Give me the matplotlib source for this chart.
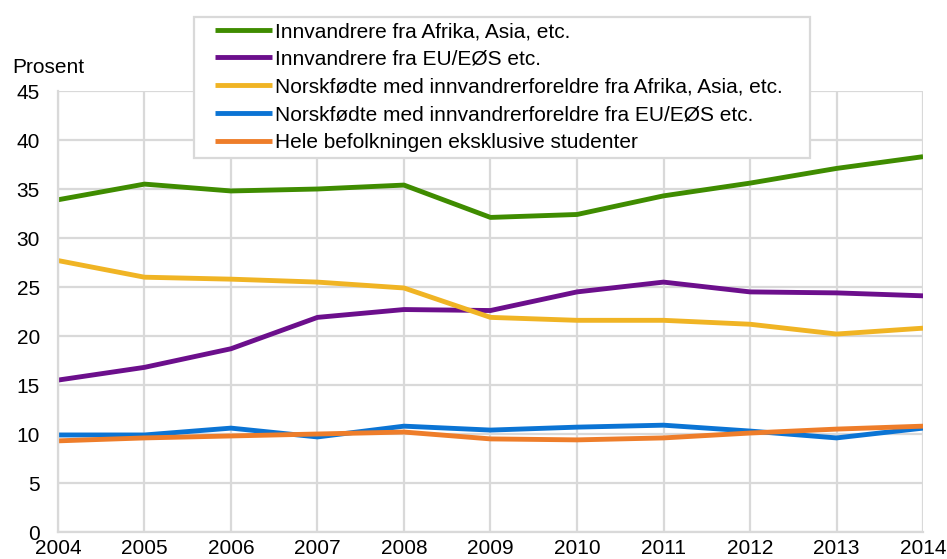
import matplotlib.pyplot as plt
from matplotlib.patches import Rectangle

plt.rcParams['font.family'] = ['Liberation Sans', 'DejaVu Sans']

years = [2004, 2005, 2006, 2007, 2008, 2009, 2010, 2011, 2012, 2013, 2014]

# andel i prosent per gruppe
innv_afrika = [33.9, 35.5, 34.8, 35.0, 35.4, 32.1, 32.4, 34.3, 35.6, 37.1, 38.3]
innv_eu = [15.5, 16.8, 18.7, 21.9, 22.7, 22.6, 24.5, 25.5, 24.5, 24.4, 24.1]
norskf_afrika = [27.7, 26.0, 25.8, 25.5, 24.9, 21.9, 21.6, 21.6, 21.2, 20.2, 20.8]
norskf_eu = [9.9, 9.9, 10.6, 9.7, 10.8, 10.4, 10.7, 10.9, 10.3, 9.6, 10.6]
hele_bef = [9.3, 9.6, 9.8, 10.0, 10.2, 9.5, 9.4, 9.6, 10.1, 10.5, 10.8]

labels = ['Innvandrere fra Afrika, Asia, etc.',
          'Innvandrere fra EU/EØS etc.',
          'Norskfødte med innvandrerforeldre fra Afrika, Asia, etc.',
          'Norskfødte med innvandrerforeldre fra EU/EØS etc.',
          'Hele befolkningen eksklusive studenter']
colors = ['#3f8c00', '#6c0f8c', '#f0b424', '#0b74d4', '#ee7d2a']

fig = plt.figure(figsize=(9.47, 5.59), dpi=100)
ax = fig.add_axes([0.0612, 0.0483, 0.9135, 0.7889])

for vals, lab, col in zip([innv_afrika, innv_eu, norskf_afrika, norskf_eu, hele_bef], labels, colors):
    ax.plot(years, vals, color=col, lw=3.5, label=lab, solid_capstyle='butt')

ax.set_xlim(2004, 2014)
ax.set_ylim(0, 45)
ax.set_xticks(years)
ax.set_yticks(range(0, 46, 5))
ax.grid(True, color='#d9d9d9', lw=1.6)
ax.set_axisbelow(True)
for s in ['top', 'right']:
    ax.spines[s].set_visible(False)
for s in ['left', 'bottom']:
    ax.spines[s].set_color('#d9d9d9')
    ax.spines[s].set_linewidth(1.6)
ax.tick_params(length=0, labelsize=15)
ax.tick_params(axis='y', pad=13)
ax.tick_params(axis='x', pad=5)

fig.text(12 / 947, 1 - 73 / 559, 'Prosent', fontsize=15, va='baseline')

# legendeboks
fig.add_artist(Rectangle((194 / 947, 1 - 158 / 559), 616 / 947, 141 / 559, transform=fig.transFigure,
                         facecolor='white', edgecolor='#d9d9d9', lw=1.6, zorder=4))
handles, labs = ax.get_legend_handles_labels()
fig.legend(handles, labs, loc='upper left', bbox_to_anchor=(215 / 947, 1 - 22 / 559),
           fontsize=15, frameon=False, handlelength=2.74, handletextpad=0.15,
           labelspacing=0.42, borderpad=0, borderaxespad=0).set_zorder(5)

fig.savefig('out.png', dpi=100)
